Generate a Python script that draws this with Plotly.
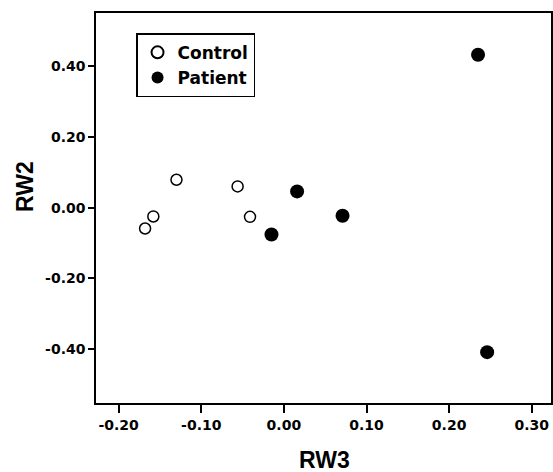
import plotly.graph_objects as go

# Data
control_rw3 = [-0.130, -0.158, -0.168, -0.056, -0.041]
control_rw2 = [0.079, -0.025, -0.059, 0.060, -0.026]
patient_rw3 = [0.235, 0.016, 0.071, -0.015, 0.246]
patient_rw2 = [0.433, 0.046, -0.023, -0.076, -0.409]

x_ticks = [-0.20, -0.10, 0.00, 0.10, 0.20, 0.30]
y_ticks = [-0.40, -0.20, 0.00, 0.20, 0.40]

tick_font = dict(family="DejaVu Sans", size=14, color="black", weight="bold")
title_font = dict(family="Liberation Sans", size=23, color="black", weight="bold")

fig = go.Figure()
fig.add_trace(go.Scatter(
    x=control_rw3, y=control_rw2, mode="markers", name="Control",
    marker=dict(symbol="circle-open", size=11, color="black", line=dict(width=1.5, color="black")),
))
fig.add_trace(go.Scatter(
    x=patient_rw3, y=patient_rw2, mode="markers", name="Patient",
    marker=dict(symbol="circle", size=14, color="black", line=dict(width=0)),
))

fig.update_layout(
    width=553, height=472,
    margin=dict(l=96, r=2, t=13, b=69, autoexpand=False),
    paper_bgcolor="white", plot_bgcolor="white",
    showlegend=True,
    legend=dict(
        x=0.088, y=0.948, xanchor="left", yanchor="top",
        bgcolor="white", bordercolor="black", borderwidth=1.5,
        font=dict(family="DejaVu Sans", size=17, color="black", weight="bold"),
        itemsizing="constant", tracegroupgap=0, itemwidth=30,
    ),
    xaxis=dict(
        range=[-0.2274, 0.3233], tickvals=x_ticks,
        ticktext=[f"{v:.2f}" for v in x_ticks],
        showgrid=False, zeroline=False, automargin=False,
        showline=True, linecolor="black", linewidth=1.5, mirror=True,
        ticks="outside", ticklen=8, tickwidth=1.5, tickcolor="black",
        tickfont=tick_font,
    ),
    yaxis=dict(
        range=[-0.553, 0.551], tickvals=y_ticks,
        ticktext=[f"{v:.2f}" for v in y_ticks],
        showgrid=False, zeroline=False, automargin=False,
        showline=True, linecolor="black", linewidth=1.5, mirror=True,
        ticks="outside", ticklen=6, tickwidth=1.5, tickcolor="black",
        tickfont=tick_font,
    ),
    annotations=[
        dict(text="RW3", xref="paper", yref="paper", x=0.503, y=0,
             xanchor="center", yanchor="middle", yshift=-57,
             showarrow=False, font=title_font),
        dict(text="RW2", xref="paper", yref="paper", x=-0.156, y=0.554,
             xanchor="center", yanchor="middle", textangle=-90,
             showarrow=False, font=title_font),
    ],
)

fig.write_html(
    "out.html",
    config={"displayModeBar": False},
    post_script="document.body.style.margin='0';document.body.style.overflow='hidden';",
)
